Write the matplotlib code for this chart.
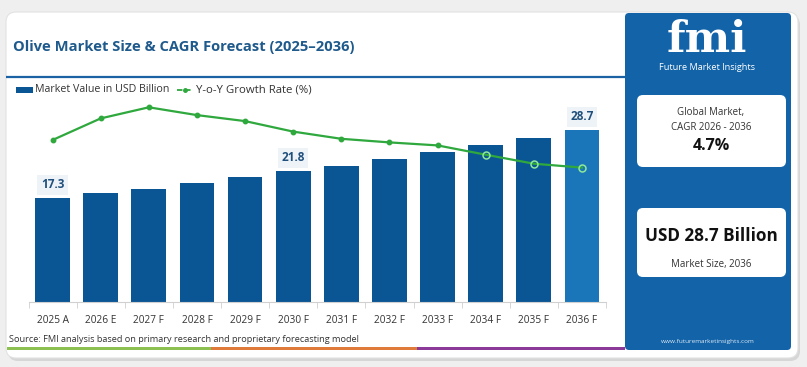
import matplotlib.pyplot as plt
from matplotlib.patches import FancyBboxPatch, Rectangle

plt.rcParams['font.family'] = ['Open Sans', 'DejaVu Sans']

years = ['2025 A', '2026 E', '2027 F', '2028 F', '2029 F', '2030 F',
         '2031 F', '2032 F', '2033 F', '2034 F', '2035 F', '2036 F']
market_value = [17.3, 18.1, 18.9, 19.8, 20.8, 21.8, 22.7, 23.9, 25.0, 26.2, 27.4, 28.7]
growth_rate = [4.16, 4.88, 5.25, 4.99, 4.79, 4.44, 4.20, 4.08, 3.98, 3.67, 3.37, 3.24]
labelled = {0: '17.3', 5: '21.8', 11: '28.7'}

W, H = 807, 367
fig = plt.figure(figsize=(W / 100, H / 100), dpi=100)
fig.patch.set_facecolor('#efefef')

# background layer in pixel coords
bg = fig.add_axes([0, 0, 1, 1])
bg.set_xlim(0, W)
bg.set_ylim(H, 0)
bg.axis('off')

bg.add_patch(FancyBboxPatch((8, 15), 792, 346, boxstyle='round,pad=0,rounding_size=10',
                            fc='#d6d6d6', ec='none'))
bg.add_patch(FancyBboxPatch((6, 12), 792, 346, boxstyle='round,pad=0,rounding_size=10',
                            fc='white', ec='#e2e2e2', lw=0.8))
# right panel
bg.add_patch(FancyBboxPatch((625, 13), 166, 337, boxstyle='round,pad=0,rounding_size=4',
                            fc='#1263a8', ec='none'))
bg.add_patch(FancyBboxPatch((637, 95), 149, 72, boxstyle='round,pad=0,rounding_size=6',
                            fc='white', ec='none'))
bg.add_patch(FancyBboxPatch((637, 208), 149, 69, boxstyle='round,pad=0,rounding_size=6',
                            fc='white', ec='none'))

# title and rule
bg.text(13, 47, 'Olive Market Size & CAGR Forecast (2025\u20132036)', fontsize=10.6,
        fontweight='bold', color='#1f5a8c', va='center', ha='left')
bg.plot([6, 625], [77, 77], color='#1a62a3', lw=1.6, solid_capstyle='butt')

# legend
bg.add_patch(Rectangle((16, 87), 17, 6, fc='#0a5594', ec='none'))
bg.text(35, 90, 'Market Value in USD Billion', fontsize=7.7, color='#333333', va='center')
bg.plot([177, 193], [90, 90], color='#2fa83e', lw=1.3, ls=(0, (3, 1.5)))
bg.plot([185], [90], 'o', color='#2fa83e', ms=2.5)
bg.text(196, 90, 'Y-o-Y Growth Rate (%)', fontsize=8.2, color='#333333', va='center')

# source and colour strip
bg.text(9, 339, 'Source: FMI analysis based on primary research and proprietary forecasting model',
        fontsize=6.6, color='#333333', va='center')
bg.add_patch(Rectangle((7, 347), 204, 2.5, fc='#8cc152', ec='none'))
bg.add_patch(Rectangle((211, 347), 206, 2.5, fc='#e07a3a', ec='none'))
bg.add_patch(Rectangle((417, 347), 208, 2.5, fc='#8b3a9a', ec='none'))

# panel texts
bg.text(707, 40, 'fmi', fontsize=31, fontweight='bold', color='white', ha='center',
        va='center', family='DejaVu Serif')
bg.text(707, 68, 'Future Market Insights', fontsize=6.6, color='white', ha='center', va='center')
bg.text(711, 112, 'Global Market,', fontsize=7, color='#333333', ha='center', va='center')
bg.text(711, 127, 'CAGR 2026 - 2036', fontsize=7, color='#333333', ha='center', va='center')
bg.text(711, 146, '4.7%', fontsize=11.5, fontweight='bold', color='#111111', ha='center',
        va='center')
bg.text(711, 236, 'USD 28.7 Billion', fontsize=12.3, fontweight='bold', color='#111111',
        ha='center', va='center')
bg.text(711, 264, 'Market Size, 2036', fontsize=7, color='#333333', ha='center', va='center')
bg.text(708, 342, 'www.futuremarketinsights.com', fontsize=4.6, color='#dbe8f5', ha='center',
        va='center')

# main chart
left, right, top, base = 28.5, 606, 100, 301.5
ax = fig.add_axes([left / W, 1 - base / H, (right - left) / W, (base - top) / H])
ax.patch.set_alpha(0)
x = list(range(len(years)))
colors = ['#0a5594'] * 11 + ['#1a76b9']
ax.bar(x, market_value, width=0.72, color=colors)
ax.set_xlim(-0.5, 11.5)
ax.set_ylim(0, (base - top) / 5.97)
for i, t in labelled.items():
    ax.annotate(t, (i, market_value[i]), xytext=(0, 5), textcoords='offset points',
                ha='center', va='bottom', fontsize=8.5, fontweight='bold', color='#1f4f7c',
                bbox=dict(boxstyle='square,pad=0.3', fc='#eef3f8', ec='none'))
for s in ['top', 'right', 'left']:
    ax.spines[s].set_visible(False)
ax.spines['bottom'].set_color('#d0d0d0')
ax.set_yticks([])
ax.set_xticks(x)
ax.set_xticklabels(years, fontsize=7.3, color='#333333')
ax.tick_params(axis='x', which='major', length=0, pad=10)
ax.set_xticks([i - 0.5 for i in range(13)], minor=True)
ax.tick_params(axis='x', which='minor', length=4, color='#d0d0d0')

ax2 = ax.twinx()
ax2.set_ylim(5.25 - (base - 107.3) / 30, 5.25 + (107.3 - top) / 30)
ax2.plot(x, growth_rate, color='#2fa83e', lw=1.6, zorder=3)
ax2.plot(x[:9], growth_rate[:9], 'o', color='#2fa83e', ms=3.2, zorder=4)
ax2.plot(x[9:], growth_rate[9:], 'o', mfc='none', mec='#8ee89a', mew=1.1, ms=5, zorder=4)
ax2.axis('off')

fig.savefig('out.png', dpi=100, facecolor=fig.get_facecolor())
